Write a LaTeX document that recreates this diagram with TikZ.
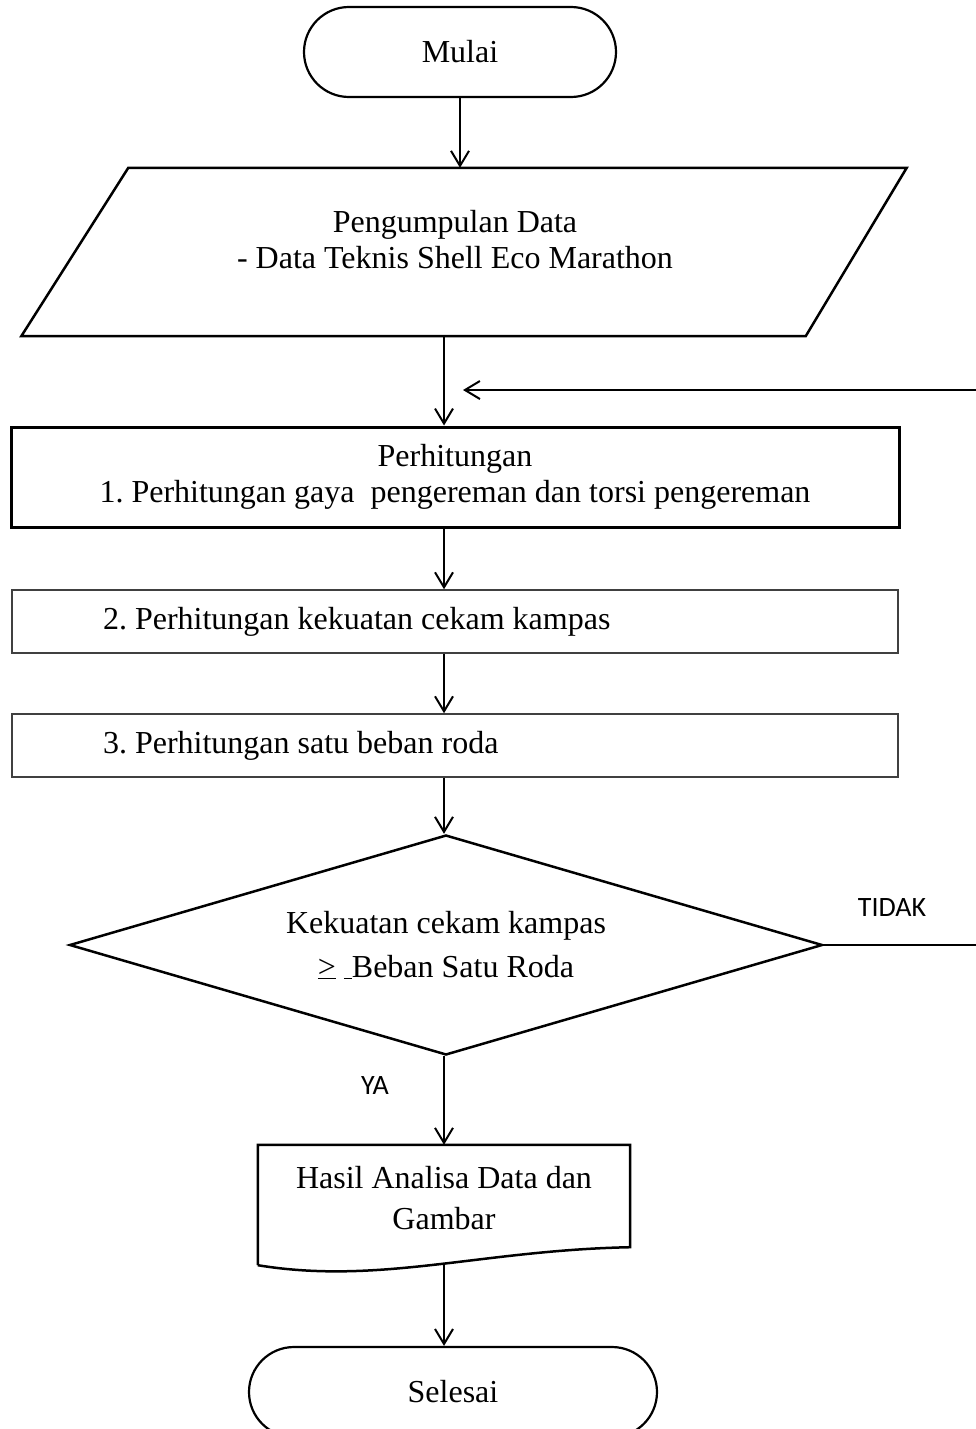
\documentclass[tikz,border=0pt]{standalone}
\usepackage{fontspec}
\setmainfont{Liberation Serif}
\newfontfamily\labelfont{Carlito}
\usetikzlibrary{shapes.geometric,arrows.meta,calc}

\tikzset{
	term/.style={draw, line width=2.2pt, rounded corners=45pt, minimum height=90pt},
	procbox/.style={draw, line width=3pt, minimum width=888pt, minimum height=100pt, align=center},
	stepbox/.style={draw=black!75, line width=1.5pt, minimum height=63pt, inner xsep=91pt},
	decision/.style={diamond, aspect=3.423, draw, line width=2.5pt, minimum width=753pt, minimum height=220pt, inner sep=0pt, align=center, font=\fontsize{32}{44}\selectfont\frenchspacing},
	flow/.style={line width=2pt, -{Straight Barb[length=15pt, width=18pt]}},
	yesno/.style={font=\labelfont\fontsize{28}{34}\selectfont}
}
\newcommand{\steptext}[1]{\makebox[704pt][l]{#1}}

\begin{document}
\begin{tikzpicture}[x=1pt, y=-1pt, every node/.style={font=\fontsize{32}{36}\selectfont\frenchspacing}]

	\useasboundingbox (0,0) rectangle (975,1429);

	\node (mulai) [term, minimum width=312pt] at (460, 52) {Mulai};
	\node (data) [minimum width=885pt, minimum height=168pt] at (464, 252) {};
	\node (datatext) [align=center] at (455, 240) {Pengumpulan Data\\- Data Teknis Shell Eco Marathon};
	\node (calc) [procbox] at (455, 477) {Perhitungan\\1. Perhitungan gaya\ \ pengereman dan torsi pengereman};
	\node (step2) [stepbox] at (455, 621.5) {\steptext{2. Perhitungan kekuatan cekam kampas}};
	\node (step3) [stepbox] at (455, 745.5) {\steptext{3. Perhitungan satu beban roda}};
	\node (dec) [decision] at (446, 945) {Kekuatan cekam kampas\\\underline{>}\ \underline{\hbox to 8pt{}}Beban Satu Roda};
	\node (hasil) [minimum width=372pt, minimum height=120pt] at (444, 1205) {};
	\node (hasiltext) [align=center, font=\fontsize{32}{41}\selectfont] at (444, 1198) {Hasil Analisa Data dan\\Gambar};
	\node (selesai) [term, minimum width=408pt] at (453, 1392) {Selesai};
	\node (tidak) [yesno] at (892, 908) {TIDAK};
	\node (ya) [yesno] at (375, 1086) {YA};

	\coordinate (spine) at (444, 0);
	\coordinate (back) at (463, 390);

	% input and document outlines
	\draw[line width=2.5pt] ([xshift=107pt]data.north west) -- (data.north east)
		-- ([xshift=-101pt]data.south east) -- (data.south west) -- cycle;
	\draw[line width=2.5pt] (hasil.south west) -- (hasil.north west) -- (hasil.north east)
		-- ([yshift=18pt]hasil.south east) .. controls +(-150,3) and +(122,20) .. (hasil.south west);

	\path[flow]
	(mulai.south) edge (mulai.south |- data.north)
	(data.south -| spine) edge (calc.north -| spine)
	(calc.south -| spine) edge (step2.north -| spine)
	(step2.south -| spine) edge (step3.north -| spine)
	(step3.south -| spine) edge (dec.north -| spine)
	(dec.south -| spine) edge (hasil.north)
	(hasil.south) edge (hasil.south |- selesai.north);

	\draw[flow] (dec.east) -- ++(200, 0) |- (back);

\end{tikzpicture}
\end{document}
